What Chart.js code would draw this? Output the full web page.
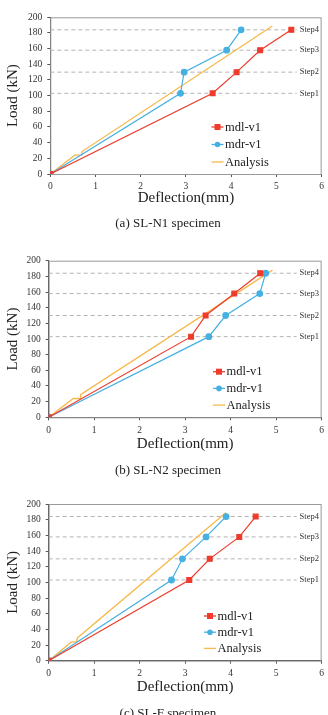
<!DOCTYPE html>
<html>
<head>
<meta charset="utf-8">
<script src="https://cdn.jsdelivr.net/npm/chart.js@4.4.1/dist/chart.umd.min.js"></script>
<style>
  html,body{margin:0;padding:0;background:#fff;}
  body{width:328px;height:715px;position:relative;overflow:hidden;font-family:"Liberation Serif","Times New Roman",serif;}
  .wrap{position:absolute;left:0;width:328px;height:220px;}
  .cap{position:absolute;left:0;width:336px;text-align:center;font-size:13px;color:#222;line-height:16px;}
</style>
</head>
<body>
<div class="wrap" style="top:0"><canvas id="c1" width="328" height="220"></canvas></div>
<div class="cap" style="top:215px">(a) SL-N1 specimen</div>
<div class="wrap" style="top:240px"><canvas id="c2" width="328" height="220"></canvas></div>
<div class="cap" style="top:462px">(b) SL-N2 specimen</div>
<div class="wrap" style="top:480px"><canvas id="c3" width="328" height="220"></canvas></div>
<div class="cap" style="top:705px">(c) SL-F specimen</div>
<script>
// ---- data ----
const seriesNames = ['mdl-v1', 'mdr-v1', 'Analysis'];
const stepLabels = ['Step1', 'Step2', 'Step3', 'Step4'];
const stepLoads = [103, 130, 158, 184];
const stepLineEnd = 5.45;

// (a) SL-N1
const n1MdlX = [0, 3.59, 4.12, 4.64, 5.33];
const n1MdlY = [0, 103, 130, 158, 184];
const n1MdrX = [0, 2.88, 2.96, 3.90, 4.22];
const n1MdrY = [0, 103, 130, 158, 184];
const n1AnaX = [0, 0.54, 0.69, 0.71, 4.91];
const n1AnaY = [0, 24, 24, 29, 189];

// (b) SL-N2
const n2MdlX = [0, 3.13, 3.45, 4.08, 4.65];
const n2MdlY = [0, 103, 130, 158, 184];
const n2MdrX = [0, 3.52, 3.89, 4.64, 4.77];
const n2MdrY = [0, 103, 130, 158, 184];
const n2AnaX = [0, 0.54, 0.69, 0.70, 4.92];
const n2AnaY = [0, 24, 24, 29, 188];

// (c) SL-F
const fMdlX = [0, 3.09, 3.54, 4.19, 4.55];
const fMdlY = [0, 103, 130, 158, 184];
const fMdrX = [0, 2.70, 2.94, 3.46, 3.90];
const fMdrY = [0, 103, 130, 158, 184];
const fAnaX = [0, 0.50, 0.61, 0.63, 3.90];
const fAnaY = [0, 24, 24, 29, 189];

// ---- styling ----
const FONT = '"Liberation Serif","Times New Roman",serif';
const RED = '#ee3b2b', BLUE = '#46b1e1', ORANGE = '#f7b94c';

function pts(xs, ys){ return xs.map((x,i)=>({x:x, y:ys[i]})); }

const framePlugin = {
  id:'frame',
  beforeDatasetsDraw(chart){
    const {ctx, chartArea:a} = chart;
    ctx.save();
    ctx.strokeStyle = '#9a9a9a'; ctx.lineWidth = 1;
    ctx.strokeRect(a.left+0.5, a.top+0.5, a.right-a.left-1, a.bottom-a.top);
    ctx.restore();
  }
};

const stepPlugin = {
  id:'steps',
  afterDatasetsDraw(chart){
    const {ctx, scales} = chart;
    ctx.save();
    ctx.font = '8.5px ' + FONT;
    ctx.fillStyle = '#333';
    ctx.textBaseline = 'middle';
    ctx.textAlign = 'left';
    stepLoads.forEach((v,i)=>{
      ctx.fillText(stepLabels[i], scales.x.getPixelForValue(stepLineEnd)+3, scales.y.getPixelForValue(v));
    });
    ctx.restore();
  }
};

const legendPlugin = {
  id:'myLegend',
  afterDraw(chart, args, opts){
    const {ctx} = chart;
    ctx.save();
    ctx.font = '12.5px ' + FONT;
    ctx.textBaseline = 'middle';
    ctx.fillStyle = '#222';
    chart.data.datasets.filter(d=>!d.isStep).forEach((d,i)=>{
      const y = opts.y + i*opts.gap;
      ctx.strokeStyle = d.borderColor; ctx.lineWidth = 1.3;
      ctx.beginPath(); ctx.moveTo(opts.x, y); ctx.lineTo(opts.x+12, y); ctx.stroke();
      ctx.fillStyle = d.borderColor;
      if (d.pointStyle === 'rect') { ctx.fillRect(opts.x+3, y-3, 6, 6); }
      else if (d.pointRadius > 0) { ctx.beginPath(); ctx.arc(opts.x+6, y, 2.8, 0, Math.PI*2); ctx.fill(); }
      ctx.fillStyle = '#222';
      ctx.fillText(d.label, opts.x+13.5, y+0.5);
    });
    ctx.restore();
  }
};

function makeChart(id, mdl, mdr, ana, g){
  const datasets = [
    {label:seriesNames[0], data:mdl, borderColor:RED, backgroundColor:RED, pointStyle:'rect', pointRadius:3.4, borderWidth:1.2, showLine:true},
    {label:seriesNames[1], data:mdr, borderColor:BLUE, backgroundColor:BLUE, pointStyle:'circle', pointRadius:2.8, borderWidth:1.2, showLine:true},
    {label:seriesNames[2], data:ana, borderColor:ORANGE, backgroundColor:ORANGE, pointRadius:0, borderWidth:1.3, showLine:true},
  ];
  stepLoads.forEach((v,i)=>{
    datasets.push({label:stepLabels[i], isStep:true, data:[{x:0,y:v},{x:stepLineEnd,y:v}], borderColor:'#b4b4b4', borderDash:[4,3], borderWidth:1, pointRadius:0, showLine:true, order:10});
  });
  return new Chart(document.getElementById(id), {
    type:'scatter',
    data:{datasets},
    options:{
      responsive:false, animation:false,
      layout:{padding:{top:g.top, right:g.right, left:0, bottom:0}},
      plugins:{legend:{display:false}, tooltip:{enabled:false}, myLegend:g.legend},
      scales:{
        x:{type:'linear', min:0, max:6,
          ticks:{stepSize:1, font:{family:FONT, size:9.5}, color:'#333', padding:4, maxRotation:0},
          grid:{drawOnChartArea:false, drawTicks:true, tickLength:3, color:'#555'},
          border:{color:'#555'},
          title:{display:true, text:'Deflection(mm)', font:{family:FONT, size:15}, color:'#222', padding:{top:0, bottom:g.xtPad}},
          afterFit(s){ s.height = g.xh; }
        },
        y:{type:'linear', min:0, max:200,
          ticks:{stepSize:20, font:{family:FONT, size:9.5}, color:'#333', padding:5},
          grid:{drawOnChartArea:false, drawTicks:true, tickLength:3, color:'#555'},
          border:{color:'#555'},
          title:{display:true, text:'Load (kN)', font:{family:FONT, size:15}, color:'#222', padding:{top:4.5, bottom:0}},
          afterFit(s){ s.width = g.yw; }
        }
      }
    },
    plugins:[framePlugin, stepPlugin, legendPlugin]
  });
}

makeChart('c1', pts(n1MdlX,n1MdlY), pts(n1MdrX,n1MdrY), pts(n1AnaX,n1AnaY),
  {top:17.3, right:3, yw:50.3, xh:46, xtPad:13, legend:{x:211.5, y:127, gap:17.5}});
makeChart('c2', pts(n2MdlX,n2MdlY), pts(n2MdrX,n2MdrY), pts(n2AnaX,n2AnaY),
  {top:20.7, right:5.3, yw:48.7, xh:42.7, xtPad:7, legend:{x:213, y:131.7, gap:16.7}});
makeChart('c3', pts(fMdlX,fMdlY), pts(fMdrX,fMdrY), pts(fAnaX,fAnaY),
  {top:24, right:5.3, yw:48.7, xh:39.3, xtPad:4, legend:{x:204, y:136, gap:16.2}});
</script>
</body>
</html>
